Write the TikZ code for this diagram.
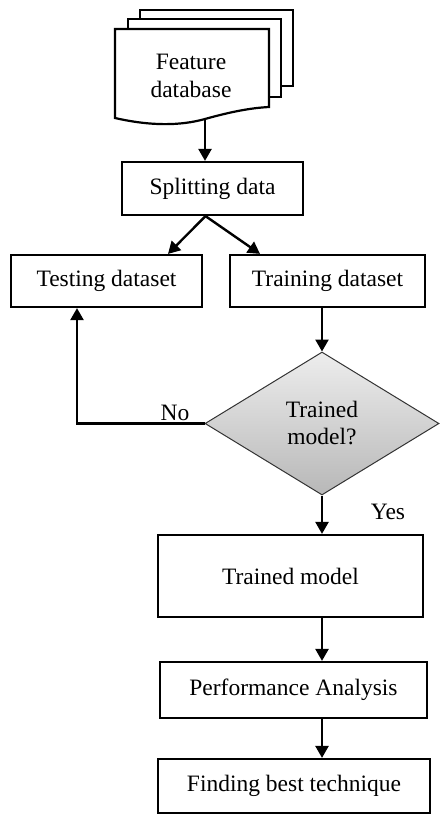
\documentclass[tikz,border=0pt]{standalone}
\usepackage{fontspec}
\setmainfont{Liberation Serif}
\usetikzlibrary{arrows.meta,shapes.geometric}

\tikzset{
  box/.style={draw, line width=2.2pt, fill=white, inner sep=0pt, align=center},
  arr/.style={line width=2.4pt, -{Triangle[length=12pt,width=13pt]}},
  sheet/.style={draw, line width=2.2pt, fill=white, line join=miter},
  decision/.style={diamond, draw=black!80, line width=1pt, inner sep=0pt,
    top color=white!93!black, bottom color=white!72!black,
    minimum width=234pt, minimum height=143pt, align=center},
  lbl/.style={inner sep=0pt}
}

\begin{document}
\begin{tikzpicture}[x=1pt, y=-1pt, font=\fontsize{23.5}{28}\selectfont]
\useasboundingbox (0,0) rectangle (439,816);

% stacked document sheets
\draw[sheet] (140,10) rectangle (293,86);
\draw[sheet] (128,19) rectangle (281,97);
\draw[sheet] (115,29) -- (269,29) -- (269,107)
  .. controls (250,108) and (230,112) .. (205,119)
  .. controls (180,126) and (150,126) .. (115,118) -- cycle;
\node[lbl] (doc) at (191,76) [align=center] {Feature\\database};
\coordinate (docfoot) at (205,119);

% process boxes
\node[box, minimum width=181pt, minimum height=53pt] (split) at (212.5,188.5) {Splitting data};
\node[box, minimum width=191pt, minimum height=52pt] (test) at (106.5,281) {Testing dataset};
\node[box, minimum width=195pt, minimum height=52pt] (train) at (327.5,281) {Training dataset};
\node[decision, font=\fontsize{23.5}{27}\selectfont] (dec) at (322,423.5) {Trained\\model?};
\node[box, minimum width=265pt, minimum height=82pt] (model) at (290.5,576) {Trained model};
\node[box, minimum width=267pt, minimum height=56pt] (perf) at (293.5,690) {Performance Analysis};
\node[box, minimum width=272pt, minimum height=54pt] (best) at (294,786) {Finding best technique};

% connectors
\draw[arr] (docfoot) -- (docfoot |- split.north);
\draw[arr] ([xshift=-7pt]split.south) -- ([xshift=61.5pt]test.north);
\draw[arr] ([xshift=-7pt]split.south) -- ([xshift=-67.5pt]train.north);
\draw[arr] (train.south -| dec.north) -- (dec.north);
\draw[arr] (dec.west) -| ([xshift=-29.5pt]test.south);
\draw[arr] (dec.south) -- (dec.south |- model.north);
\draw[arr] (dec.south |- model.south) -- (dec.south |- perf.north);
\draw[arr] (dec.south |- perf.south) -- (dec.south |- best.north);

% branch labels
\node[lbl] (no) at (175,413) {No};
\node[lbl] (yes) at (388,512) {Yes};
\end{tikzpicture}
\end{document}
